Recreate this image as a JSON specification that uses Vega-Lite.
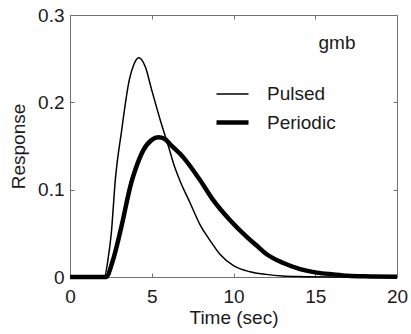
{
  "$schema": "https://vega.github.io/schema/vega-lite/v6.json",
  "width": 327,
  "height": 262,
  "autosize": {"type": "none"},
  "padding": {"left": 70, "top": 15, "right": 14, "bottom": 57},
  "background": "white",
  "config": {
    "view": {"stroke": "#707070", "strokeWidth": 1},
    "font": "Liberation Sans",
    "axis": {
      "labelFont": "Liberation Sans",
      "labelFontSize": 19,
      "labelColor": "#1a1a1a",
      "titleFont": "Liberation Sans",
      "titleFontSize": 19,
      "titleFontWeight": "normal",
      "titleColor": "#1a1a1a",
      "tickColor": "#707070",
      "tickSize": -4,
      "domain": false,
      "grid": false,
      "labelFlush": false
    },
    "legend": {
      "labelFont": "Liberation Sans",
      "labelFontSize": 19,
      "labelColor": "#1a1a1a"
    }
  },
  "data": {
    "values": [
      {"series": "Pulsed", "t": 0, "r": 0},
      {"series": "Pulsed", "t": 1, "r": 0},
      {"series": "Pulsed", "t": 2.1, "r": 0},
      {"series": "Pulsed", "t": 2.32, "r": 0.0195},
      {"series": "Pulsed", "t": 2.53, "r": 0.051},
      {"series": "Pulsed", "t": 2.77, "r": 0.111},
      {"series": "Pulsed", "t": 3.16, "r": 0.168},
      {"series": "Pulsed", "t": 3.63, "r": 0.226},
      {"series": "Pulsed", "t": 3.9, "r": 0.243},
      {"series": "Pulsed", "t": 4.2, "r": 0.251},
      {"series": "Pulsed", "t": 4.6, "r": 0.241},
      {"series": "Pulsed", "t": 5.0, "r": 0.214},
      {"series": "Pulsed", "t": 5.5, "r": 0.181},
      {"series": "Pulsed", "t": 5.71, "r": 0.168},
      {"series": "Pulsed", "t": 5.95, "r": 0.154},
      {"series": "Pulsed", "t": 6.42, "r": 0.125},
      {"series": "Pulsed", "t": 6.73, "r": 0.11},
      {"series": "Pulsed", "t": 7.34, "r": 0.085},
      {"series": "Pulsed", "t": 7.95, "r": 0.06},
      {"series": "Pulsed", "t": 8.56, "r": 0.042},
      {"series": "Pulsed", "t": 9.17, "r": 0.026},
      {"series": "Pulsed", "t": 10.0, "r": 0.013},
      {"series": "Pulsed", "t": 11.0, "r": 0.006},
      {"series": "Pulsed", "t": 12.0, "r": 0.003},
      {"series": "Pulsed", "t": 13.0, "r": 0.0012},
      {"series": "Pulsed", "t": 14.0, "r": 0.0005},
      {"series": "Pulsed", "t": 16.0, "r": 0.0001},
      {"series": "Pulsed", "t": 20.0, "r": 0},
      {"series": "Periodic", "t": 0, "r": 0},
      {"series": "Periodic", "t": 1, "r": 0},
      {"series": "Periodic", "t": 2.2, "r": 0},
      {"series": "Periodic", "t": 2.63, "r": 0.0195},
      {"series": "Periodic", "t": 3.1, "r": 0.054},
      {"series": "Periodic", "t": 3.75, "r": 0.108},
      {"series": "Periodic", "t": 4.0, "r": 0.123},
      {"series": "Periodic", "t": 4.48, "r": 0.145},
      {"series": "Periodic", "t": 5.0, "r": 0.157},
      {"series": "Periodic", "t": 5.4, "r": 0.16},
      {"series": "Periodic", "t": 5.8, "r": 0.158},
      {"series": "Periodic", "t": 6.12, "r": 0.152},
      {"series": "Periodic", "t": 6.93, "r": 0.137},
      {"series": "Periodic", "t": 7.95, "r": 0.111},
      {"series": "Periodic", "t": 8.76, "r": 0.088},
      {"series": "Periodic", "t": 9.79, "r": 0.065},
      {"series": "Periodic", "t": 10.81, "r": 0.046},
      {"series": "Periodic", "t": 11.42, "r": 0.036},
      {"series": "Periodic", "t": 12.03, "r": 0.026},
      {"series": "Periodic", "t": 13.05, "r": 0.016},
      {"series": "Periodic", "t": 14.07, "r": 0.009},
      {"series": "Periodic", "t": 15.09, "r": 0.005},
      {"series": "Periodic", "t": 16.1, "r": 0.003},
      {"series": "Periodic", "t": 17.0, "r": 0.0015},
      {"series": "Periodic", "t": 18.0, "r": 0.0008},
      {"series": "Periodic", "t": 20.0, "r": 0.0003}
    ]
  },
  "layer": [
    {
      "mark": {"type": "line", "interpolate": "monotone", "color": "black"},
      "encoding": {
        "x": {
          "field": "t", "type": "quantitative",
          "scale": {"domain": [0, 20], "nice": false, "zero": false},
          "axis": {"orient": "bottom", "values": [0, 5, 10, 15, 20], "format": "~g", "labelPadding": 14, "title": "Time (sec)", "titlePadding": 2}
        },
        "y": {
          "field": "r", "type": "quantitative",
          "scale": {"domain": [0, 0.3], "nice": false},
          "axis": {"orient": "left", "values": [0, 0.1, 0.2, 0.3], "format": "~g", "labelPadding": 10, "title": "Response", "titlePadding": 9}
        },
        "detail": {"field": "series", "type": "nominal"},
        "strokeWidth": {
          "field": "series", "type": "nominal",
          "scale": {"domain": ["Pulsed", "Periodic"], "range": [1.5, 4.5]},
          "legend": {
            "orient": "none", "legendX": 144, "legendY": 62,
            "title": null, "symbolType": "stroke", "symbolSize": 1024,
            "symbolStrokeColor": "black", "labelOffset": 16, "rowPadding": -5, "padding": 0
          }
        }
      }
    },
    {
      "mark": {"type": "line", "opacity": 0},
      "encoding": {
        "x": {
          "field": "t", "type": "quantitative",
          "scale": {"domain": [0, 20], "nice": false, "zero": false},
          "axis": {"orient": "top", "values": [0, 5, 10, 15, 20], "labels": false, "title": null}
        },
        "y": {
          "field": "r", "type": "quantitative",
          "scale": {"domain": [0, 0.3], "nice": false},
          "axis": {"orient": "right", "values": [0, 0.1, 0.2, 0.3], "labels": false, "title": null}
        },
        "detail": {"field": "series", "type": "nominal"}
      }
    },
    {
      "data": {"values": [{"label": "gmb"}]},
      "mark": {"type": "text", "fontSize": 19, "font": "Liberation Sans", "color": "#1a1a1a"},
      "encoding": {
        "text": {"field": "label", "type": "nominal"},
        "x": {"datum": 16.33, "type": "quantitative", "scale": {"domain": [0, 20], "nice": false, "zero": false}, "axis": null},
        "y": {"datum": 0.268, "type": "quantitative", "scale": {"domain": [0, 0.3], "nice": false}, "axis": null}
      }
    }
  ],
  "resolve": {
    "scale": {"x": "independent", "y": "independent", "strokeWidth": "independent"},
    "axis": {"x": "independent", "y": "independent"}
  }
}
